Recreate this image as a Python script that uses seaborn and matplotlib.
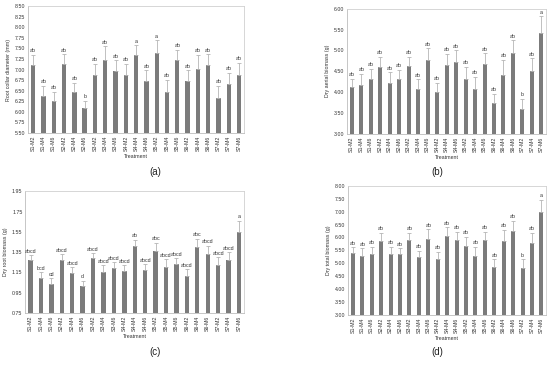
import numpy as np
import matplotlib
matplotlib.use("Agg")
import matplotlib.pyplot as plt
import seaborn as sns

treatments = ["S1-M2", "S1-M4", "S1-M6", "S2-M2", "S2-M4", "S2-M6", "S3-M2",
              "S3-M4", "S3-M6", "S4-M2", "S4-M4", "S4-M6", "S5-M2", "S5-M4",
              "S5-M6", "S6-M2", "S6-M4", "S6-M6", "S7-M2", "S7-M4", "S7-M6"]

# (a) root collar diameter
collar = [7.10, 6.38, 6.26, 7.12, 6.46, 6.08, 6.87, 7.23, 6.96, 6.86, 7.34,
          6.72, 7.40, 6.46, 7.22, 6.72, 7.02, 7.11, 6.33, 6.65, 6.88]
collar_err = [0.24, 0.23, 0.21, 0.24, 0.22, 0.18, 0.26, 0.32, 0.26, 0.28, 0.23,
              0.26, 0.29, 0.29, 0.25, 0.26, 0.33, 0.25, 0.28, 0.27, 0.28]
collar_lab = ["ab", "ab", "ab", "ab", "ab", "b", "ab", "ab", "ab", "ab", "a",
              "ab", "a", "ab", "ab", "ab", "ab", "ab", "ab", "ab", "ab"]

# (b) dry aerial biomass
aerial = [4.13, 4.16, 4.32, 4.60, 4.21, 4.32, 4.62, 4.08, 4.78, 3.99, 4.65,
          4.72, 4.32, 4.08, 4.67, 3.73, 4.42, 4.93, 3.58, 4.50, 5.41]
aerial_err = [0.19, 0.28, 0.23, 0.25, 0.26, 0.21, 0.23, 0.22, 0.27, 0.23, 0.27,
              0.28, 0.28, 0.29, 0.26, 0.22, 0.35, 0.31, 0.25, 0.31, 0.41]
aerial_lab = ["ab"] * 18 + ["b", "ab", "a"]

# (c) dry root biomass
root = [1.27, 1.095, 1.035, 1.27, 1.14, 1.01, 1.29, 1.15, 1.19, 1.16, 1.41,
        1.17, 1.36, 1.20, 1.23, 1.11, 1.40, 1.33, 1.22, 1.27, 1.55]
root_err = [0.05, 0.055, 0.055, 0.06, 0.06, 0.055, 0.05, 0.07, 0.06, 0.06, 0.06,
            0.06, 0.08, 0.08, 0.06, 0.07, 0.08, 0.08, 0.08, 0.08, 0.11]
root_lab = ["abcd", "bcd", "cd", "abcd", "abcd", "d", "abcd", "abcd", "abcd",
            "abcd", "ab", "abcd", "abc", "abcd", "abcd", "abcd", "abc", "abcd",
            "abcd", "abcd", "a"]

# (d) dry total biomass
total = [5.41, 5.27, 5.37, 5.87, 5.36, 5.35, 5.91, 5.23, 5.96, 5.17, 6.07,
         5.89, 5.67, 5.28, 5.90, 4.84, 5.85, 6.26, 4.80, 5.80, 6.98]
total_err = [0.21, 0.31, 0.27, 0.31, 0.28, 0.23, 0.27, 0.26, 0.35, 0.28, 0.32,
             0.33, 0.36, 0.36, 0.32, 0.31, 0.44, 0.39, 0.35, 0.38, 0.47]
total_lab = ["ab"] * 18 + ["b", "ab", "a"]

sns.set_style("white")
plt.rcParams["font.family"] = ["Liberation Sans", "DejaVu Sans"]

bar_col = "#7b7b7b"
err_col = "#b5b5b5"
fs = 3.8

fig = plt.figure(figsize=(5.5, 3.65), dpi=100)


def panel(rect, vals, errs, labs, ylabel, ylim, ystep, off):
    ax = fig.add_axes(rect)
    sns.barplot(x=treatments, y=vals, color=bar_col, width=0.42, ax=ax,
                saturation=1, linewidth=0)
    xs = [p.get_x() + p.get_width() / 2 for p in ax.patches]
    ax.errorbar(xs, vals, yerr=[np.zeros(len(errs)), errs], fmt="none",
                ecolor=err_col, elinewidth=0.6, capsize=1.2, capthick=0.6)
    for x, v, e, t in zip(xs, vals, errs, labs):
        ax.text(x, v + e + off, t, ha="center", va="bottom", fontsize=fs,
                color="#333333")
    ax.set_ylim(*ylim)
    ax.set_xlim(-0.5, len(treatments) - 0.5)
    ax.set_yticks(np.arange(ylim[0], ylim[1] + ystep / 2, ystep))
    ax.yaxis.set_major_formatter(matplotlib.ticker.FormatStrFormatter("%.2f"))
    ax.tick_params(axis="y", labelsize=fs, length=0, pad=2, colors="#333333")
    ax.tick_params(axis="x", labelsize=fs, length=0, pad=2, rotation=90,
                   colors="#333333")
    ax.set_ylabel(ylabel, fontsize=fs, color="#333333", labelpad=3)
    ax.set_xlabel("Treatment", fontsize=fs, color="#333333", labelpad=2)
    for s in ax.spines.values():
        s.set_color("#d0d0d0")
        s.set_linewidth(0.6)
    ax.spines["left"].set_color("#bdbdbd")
    ax.spines["bottom"].set_color("#bdbdbd")
    return ax


panel([0.051, 0.636, 0.393, 0.347], collar, collar_err, collar_lab,
      "Root collar diameter (mm)", (5.5, 8.5), 0.25, 0.04)
panel([0.631, 0.634, 0.362, 0.342], aerial, aerial_err, aerial_lab,
      "Dry aerial biomass (g)", (3.0, 6.0), 0.5, 0.04)
panel([0.046, 0.143, 0.398, 0.333], root, root_err, root_lab,
      "Dry root biomass (g)", (0.75, 1.95), 0.2, 0.015)
panel([0.633, 0.137, 0.360, 0.354], total, total_err, total_lab,
      "Dry total biomass (g)", (3.0, 8.0), 0.5, 0.06)

for x, y, t in [(0.282, 0.529, "(a)"), (0.795, 0.529, "(b)"),
                (0.282, 0.036, "(c)"), (0.795, 0.036, "(d)")]:
    fig.text(x, y, t, ha="center", va="center", fontsize=7, color="#222222")

fig.savefig("out.png", dpi=100)
